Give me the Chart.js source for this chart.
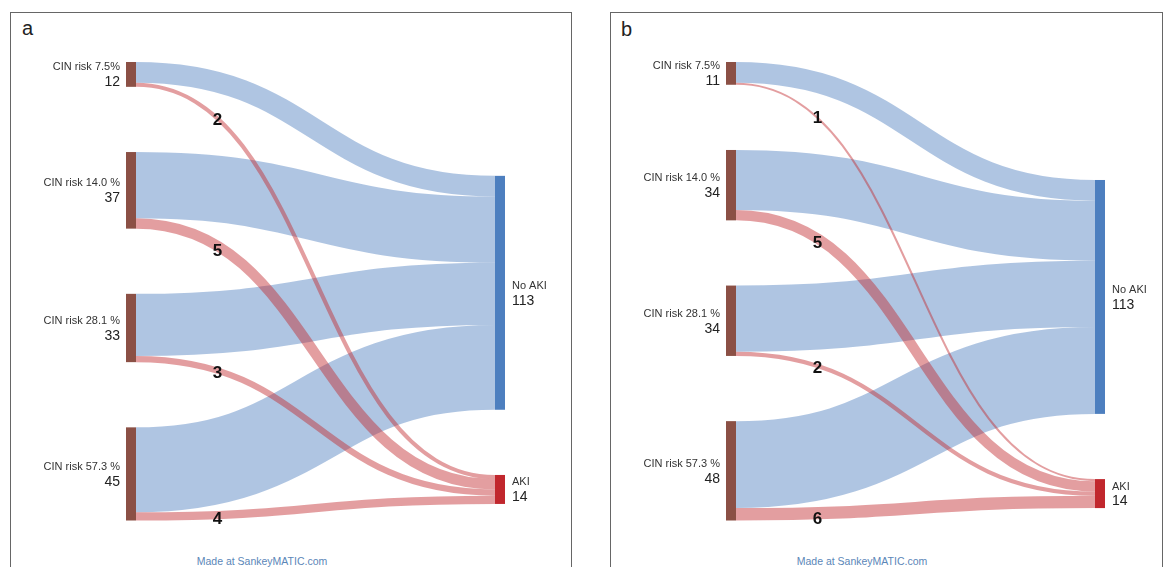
<!DOCTYPE html>
<html><head><meta charset="utf-8">
<script src="https://cdn.jsdelivr.net/npm/chart.js@4.4.0/dist/chart.umd.min.js"></script>
<style>
html,body{margin:0;padding:0;background:#fff;width:1167px;height:567px;overflow:hidden;font-family:"Liberation Sans",Arial,sans-serif;}
.panel{position:absolute;top:0;width:583px;height:567px;}
.frame{position:absolute;top:12px;height:600px;border:1.5px solid #666;border-bottom:none;box-sizing:border-box;}
.letter{position:absolute;font-size:20px;color:#222;}
.made{position:absolute;top:555px;font-size:10.5px;color:#5b86b8;width:200px;text-align:center;}
canvas{position:absolute;left:0;top:0;}
</style></head>
<body>
<div class="frame" style="left:10px;width:562px;"></div>
<div class="frame" style="left:610px;width:553px;"></div>
<div class="letter" style="left:22px;top:17px;">a</div>
<div class="letter" style="left:621px;top:18px;">b</div>
<div class="made" style="left:162px;">Made at SankeyMATIC.com</div>
<div class="made" style="left:762px;">Made at SankeyMATIC.com</div>
<div class="panel" style="left:0;"><canvas id="ca" width="583" height="567"></canvas></div>
<div class="panel" style="left:600px;"><canvas id="cb" width="583" height="567"></canvas></div>
<script>
// ---- data ----
const sourcesA = ['CIN risk 7.5%', 'CIN risk 14.0 %', 'CIN risk 28.1 %', 'CIN risk 57.3 %'];
const sourcesB = ['CIN risk 7.5%', 'CIN risk 14.0 %', 'CIN risk 28.1 %', 'CIN risk 57.3 %'];
const targets = ['No AKI', 'AKI'];
const noAkiA = [10, 32, 30, 41];
const akiA = [2, 5, 3, 4];
const noAkiB = [10, 29, 32, 42];
const akiB = [1, 5, 2, 6];

// ---- styles ----
const srcColor = '#8b5045';
const tgtColors = ['#4d7fbf', '#c1272d'];

function hexA(hex, a) {
  const n = parseInt(hex.slice(1), 16);
  return `rgba(${(n>>16)&255},${(n>>8)&255},${n&255},${a})`;
}

const sankeyPlugin = {
  id: 'sankey',
  afterDatasetsDraw(chart) {
    const cfg = chart.options.plugins.sankey;
    const ctx = chart.ctx;
    const xs = chart.scales.x, ys = chart.scales.y;
    const nw = cfg.nodeWidth;
    const xL = xs.getPixelForValue(0), xR = xs.getPixelForValue(1);
    const flowSets = cfg.flowSets;
    let y = 0;
    const src = cfg.sources.map((name, i) => {
      const total = flowSets.reduce((s, f) => s + f[i], 0);
      const n = {name, total, top: y, off: 0};
      y += total + cfg.gap;
      return n;
    });
    let ty = cfg.rightOffset;
    const tgt = cfg.targets.map((name, j) => {
      const total = flowSets[j].reduce((a, b) => a + b, 0);
      const n = {name, total, top: ty, off: 0, color: tgtColors[j]};
      ty += total + cfg.gap;
      return n;
    });
    const links = [];
    src.forEach((s, i) => {
      flowSets.forEach((f, j) => {
        const v = f[i];
        links.push({i, j, v, s0: s.top + s.off, t0: tgt[j].top + tgt[j].off});
        s.off += v; tgt[j].off += v;
      });
    });
    const x0 = xL + nw, x1 = xR, xm = (x0 + x1) / 2;
    ctx.save();
    links.sort((a, b) => a.j - b.j).forEach(l => {
      const ya = ys.getPixelForValue(l.s0 + l.v / 2);
      const yc = ys.getPixelForValue(l.t0 + l.v / 2);
      const w = Math.abs(ys.getPixelForValue(l.v) - ys.getPixelForValue(0));
      ctx.beginPath();
      ctx.moveTo(x0, ya);
      ctx.bezierCurveTo(xm, ya, xm, yc, x1, yc);
      ctx.lineWidth = w;
      ctx.lineCap = 'butt';
      ctx.strokeStyle = hexA(tgtColors[l.j], 0.45);
      ctx.stroke();
      l.ya = ya; l.yc = yc; l.w = w;
    });
    // nodes
    src.forEach(s => {
      const t = ys.getPixelForValue(s.top), b = ys.getPixelForValue(s.top + s.total);
      ctx.fillStyle = srcColor;
      ctx.fillRect(xL, t, nw, b - t);
      const c = (t + b) / 2;
      ctx.textAlign = 'right'; ctx.textBaseline = 'middle';
      ctx.fillStyle = '#333';
      ctx.font = '11px "Liberation Sans", Arial, sans-serif';
      ctx.fillText(s.name, xL - 6, c - 7);
      ctx.font = '14px "Liberation Sans", Arial, sans-serif';
      ctx.fillStyle = '#222';
      ctx.fillText(String(s.total), xL - 6, c + 8);
    });
    tgt.forEach(n => {
      const t = ys.getPixelForValue(n.top), b = ys.getPixelForValue(n.top + n.total);
      ctx.fillStyle = n.color;
      ctx.fillRect(xR, t, nw, b - t);
      const c = (t + b) / 2;
      ctx.textAlign = 'left'; ctx.textBaseline = 'middle';
      ctx.fillStyle = '#333';
      ctx.font = '11px "Liberation Sans", Arial, sans-serif';
      ctx.fillText(n.name, xR + nw + 7, c - 7);
      ctx.font = '14px "Liberation Sans", Arial, sans-serif';
      ctx.fillStyle = '#222';
      ctx.fillText(String(n.total), xR + nw + 7, c + 8);
    });
    // flow value labels on AKI flows (placed at the flow's lower edge)
    const tl = cfg.labelT;
    ctx.font = 'bold 17px "Liberation Sans", Arial, sans-serif';
    ctx.fillStyle = '#111';
    ctx.textAlign = 'center'; ctx.textBaseline = 'middle';
    links.filter(l => l.j === 1).forEach(l => {
      const u = 1 - tl;
      const px = u*u*u*x0 + 3*u*u*tl*xm + 3*u*tl*tl*xm + tl*tl*tl*x1;
      const py = u*u*u*l.ya + 3*u*u*tl*l.ya + 3*u*tl*tl*l.yc + tl*tl*tl*l.yc;
      ctx.fillText(String(l.v), px, py + l.w / 2);
    });
    ctx.restore();
  }
};

function makeChart(id, sources, noAki, aki, rightOffset) {
  return new Chart(document.getElementById(id), {
    type: 'scatter',
    data: {datasets: []},
    plugins: [sankeyPlugin],
    options: {
      responsive: false,
      animation: false,
      devicePixelRatio: 1,
      layout: {padding: {left: 126, right: 88, top: 62, bottom: 46.5}},
      scales: {
        x: {type: 'linear', min: 0, max: 1, display: false},
        y: {type: 'linear', min: 0, max: 221.5, reverse: true, display: false}
      },
      plugins: {
        legend: {display: false}, tooltip: {enabled: false},
        sankey: {sources, targets, flowSets: [noAki, aki], gap: 31.5, rightOffset, nodeWidth: 10, labelT: 0.18}
      }
    }
  });
}
makeChart('ca', sourcesA, noAkiA, akiA, 55);
makeChart('cb', sourcesB, noAkiB, akiB, 57);
</script>
</body></html>
